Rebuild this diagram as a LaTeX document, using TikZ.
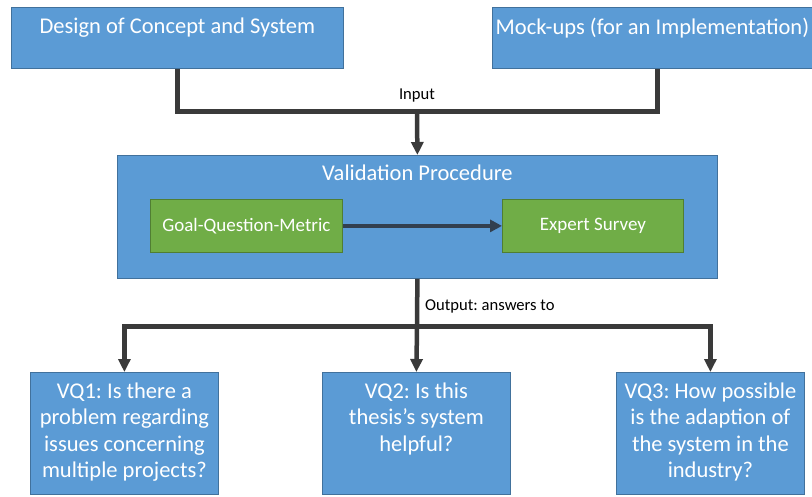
\documentclass[tikz,border=0pt]{standalone}
\usepackage{fontspec}
\setmainfont{Carlito}
\usepackage{tikz}
\usepackage{xcolor}
\usetikzlibrary{arrows.meta, positioning, calc}
\definecolor{cBlue}{HTML}{5B9BD5}
\definecolor{cBlueEdge}{HTML}{41719C}
\definecolor{cGreen}{HTML}{70AD47}
\definecolor{cGreenEdge}{HTML}{507E32}
\definecolor{cLine}{HTML}{3A3A3A}
\definecolor{cNavy}{HTML}{323F4F}
\frenchspacing
\tikzset{
	bluebox/.style ={rectangle, draw=cBlueEdge, line width=0.8pt, fill=cBlue, anchor=north west, inner sep=0pt},
	greenbox/.style={rectangle, draw=cGreenEdge, line width=0.8pt, fill=cGreen, anchor=north west, inner sep=0pt, text=white, font=\fontsize{19}{23}\selectfont},
	boxtext/.style ={anchor=north, inner sep=0pt, text=white, align=center, font=\fontsize{22.5}{26.4}\selectfont},
	lbl/.style     ={inner sep=0pt, font=\fontsize{16.6}{20}\selectfont},
	% connectors
	conn/.style    ={draw=cLine, line width=4.5pt},
	arr/.style     ={-{Triangle[length=13pt, width=12pt]}},
	inarr/.style   ={draw=cNavy, line width=4.5pt, -{Triangle[length=12pt, width=12pt]}},
}
\begin{document}
\begin{tikzpicture}[x=1pt, y=-1pt]
	\useasboundingbox (0,0) rectangle (812,496);
	\clip (0,0) rectangle (812,496);
	% inputs
	\node[bluebox, minimum width=332pt, minimum height=61pt, label={[boxtext, yshift=-11pt]north:Design of Concept and System}] (design) at (11,7) {};
	\node[bluebox, minimum width=330pt, minimum height=61pt, label={[boxtext, yshift=-11pt, xshift=-5pt]north:Mock-ups (for an Implementation)}] (mock) at (492,7) {};
	% validation
	\node[bluebox, minimum width=600pt, minimum height=123pt, label={[boxtext, yshift=-10pt]north:Validation Procedure}] (valid) at (117,155) {};
	\node[greenbox, minimum width=192pt, minimum height=53pt] (gqm) at (150,199) {Goal-Question-Metric};
	\node[greenbox, minimum width=181pt, minimum height=53pt] (survey) at (502,199) {Expert Survey};
	% questions
	\node[bluebox, minimum width=188pt, minimum height=122pt, label={[boxtext, yshift=-10.5pt]north:VQ1: Is there a\\problem regarding\\issues concerning\\multiple projects?}] (vq1) at (30,372) {};
	\node[bluebox, minimum width=188pt, minimum height=122pt, label={[boxtext, yshift=-10.5pt]north:VQ2: Is this\\thesis’s system\\helpful?}] (vq2) at (322,372) {};
	\node[bluebox, minimum width=188pt, minimum height=122pt, label={[boxtext, yshift=-10.5pt]north:VQ3: How possible\\is the adaption of\\the system in the\\industry?}] (vq3) at (616,372) {};

	\coordinate (inJoin) at (417,111.5);
	\coordinate (outJoin) at (417,326.5);
	\draw[conn] (design.south) |- (inJoin) -| (mock.south);
	\draw[conn, arr] (inJoin) -- (valid.north);
	\node[lbl] (inLbl) at (417,96) {Input};
	\draw[inarr] (gqm) -- (survey);
	\draw[conn] (valid.south) -- (outJoin);
	\draw[conn, arr] (outJoin) -| (vq1.north);
	\draw[conn, arr] (outJoin) -- (vq2.north);
	\draw[conn, arr] (outJoin) -| (vq3.north);
	\node[lbl, anchor=west] (outLbl) at (425,306) {Output: answers to};
\end{tikzpicture}
\end{document}
